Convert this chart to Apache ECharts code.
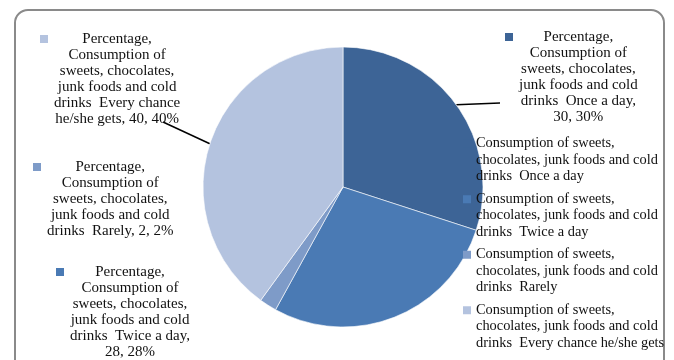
<!DOCTYPE html>
<html>
<head>
<meta charset="utf-8">
<script src="https://cdn.jsdelivr.net/npm/echarts@6/dist/echarts.min.js"></script>
<style>
  html, body { margin: 0; padding: 0; background: #fff; }
  .frame { position: absolute; left: 14px; top: 9px; width: 647px; height: 400px; border: 2px solid #8a8a8a; border-radius: 14px; }
  #chart { position: absolute; left: 0; top: 0; width: 674px; height: 360px; }
</style>
</head>
<body>
<div class="frame"></div>
<div id="chart"></div>
<script>
  var categories = ['Once a day', 'Twice a day', 'Rarely', 'Every chance he/she gets'];
  var values = [30, 28, 2, 40];
  var percents = [30, 28, 2, 40];
  var colors = ['#3d6496', '#4a7ab4', '#7e9bc8', '#b4c3df'];
  var seriesName = 'Percentage';
  var prefix = 'Consumption of sweets, chocolates, junk foods and cold drinks';

  // where each data label sits (key square top-left) and where its leader line ends
  var labelBoxes = [
    { x: 505, y: 29, line: [-5, 74] },
    { x: 56, y: 264, line: null },
    { x: 33, y: 159, line: null },
    { x: 40, y: 31, line: [123, 91] }
  ];

  var font = 'Liberation Serif';
  var txt = '#111111';

  // simple greedy word wrap
  function wrap(text, max) {
    var words = text.split(' '), lines = [], cur = '';
    words.forEach(function (w) {
      if (cur && (cur + ' ' + w).length > max) { lines.push(cur); cur = w; }
      else cur = cur ? cur + ' ' + w : w;
    });
    if (cur) lines.push(cur);
    return lines.map(function (l) { return l.replace('drinks ', 'drinks  '); });
  }

  var rich = {
    g: { width: 6, align: 'left' },
    s: { width: 14, align: 'left' },
    t: { align: 'center', fontFamily: font, fontSize: 15, lineHeight: 16, color: txt }
  };
  colors.forEach(function (c, i) {
    rich['k' + i] = { width: 8, height: 8, backgroundColor: c, align: 'left' };
  });

  var myChart = echarts.init(document.getElementById('chart'));

  var option = {
    animation: false,
    legend: {
      orient: 'vertical',
      left: 463,
      top: 135,
      padding: 0,
      itemWidth: 8,
      itemHeight: 48,
      itemGap: 6,
      selectedMode: false,
      icon: 'path://M0,0M0,4h8v8h-8zM0,48',
      data: categories.map(function (c, i) {
        return { name: c, itemStyle: { color: colors[i], borderWidth: 0, borderColor: colors[i] } };
      }),
      formatter: function (name) {
        return wrap(prefix + ' ' + name, 31).join('\n');
      },
      textStyle: { fontFamily: font, fontSize: 14.4, lineHeight: 16.5, color: txt }
    },
    series: [{
      name: seriesName,
      type: 'pie',
      center: [343, 187],
      radius: 140,
      startAngle: 90,
      clockwise: true,
      avoidLabelOverlap: false,
      emphasis: { disabled: true },
      itemStyle: { borderColor: '#ffffff', borderWidth: 0.6 },
      label: {
        show: true,
        position: 'outside',
        color: txt,
        formatter: function (p) {
          var lines = wrap(p.seriesName + ', ' + prefix + ' ' + p.name + ', ' + p.value + ', ' + percents[p.dataIndex] + '%', 20);
          return lines.map(function (l, i) {
            return (i === 0 ? '{k' + p.dataIndex + '|}{g|}' : '{s|}') + '{t|' + l + '}';
          }).join('\n');
        },
        rich: rich
      },
      labelLine: { show: true, lineStyle: { color: '#000', width: 1.5 } },
      labelLayout: function (p) {
        var b = labelBoxes[p.dataIndex];
        var out = { x: b.x, y: b.y, align: 'left', verticalAlign: 'top' };
        if (b.line && p.labelLinePoints) {
          out.labelLinePoints = [
            [p.labelLinePoints[0][0], p.labelLinePoints[0][1]],
            [b.x + b.line[0], b.y + b.line[1]]
          ];
        }
        return out;
      },
      data: categories.map(function (c, i) {
        return {
          name: c,
          value: values[i],
          itemStyle: { color: colors[i] },
          labelLine: { show: !!labelBoxes[i].line }
        };
      })
    }]
  };

  myChart.setOption(option);
  window.onresize = () => myChart.resize();
</script>
</body>
</html>
